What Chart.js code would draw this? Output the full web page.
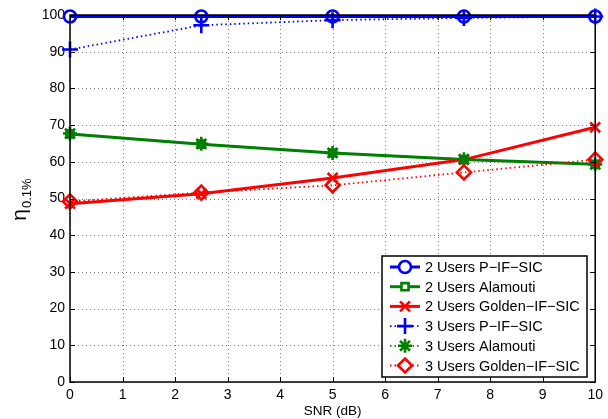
<!DOCTYPE html>
<html>
<head>
<meta charset="utf-8">
<script src="https://cdn.jsdelivr.net/npm/chart.js@4.4.1/dist/chart.umd.min.js"></script>
<style>
  html, body { margin: 0; padding: 0; background: #fff; }
  #wrap { width: 608px; height: 419px; }
</style>
</head>
<body>
<div id="wrap"><canvas id="c" width="608" height="419"></canvas></div>
<script>
// SNR points and eta values
const snr = [0, 2.5, 5, 7.5, 10];
const users2PIFSIC = [99.6, 99.6, 99.6, 99.6, 99.6];
const users2Alamouti = [67.6, 64.8, 62.4, 60.6, 59.3];
const users2Golden = [48.6, 51.3, 55.6, 60.6, 69.4];
const users3PIFSIC = [90.6, 97.2, 98.6, 99.2, 99.6];
const users3Alamouti = [67.7, 64.9, 62.4, 60.7, 59.3];
const users3Golden = [49.2, 51.6, 53.6, 57.1, 60.6];

const seriesNames = ['2 Users P\u2212IF\u2212SIC', '2 Users Alamouti', '2 Users Golden\u2212IF\u2212SIC',
                     '3 Users P\u2212IF\u2212SIC', '3 Users Alamouti', '3 Users Golden\u2212IF\u2212SIC'];
const xTicks = [0, 1, 2, 3, 4, 5, 6, 7, 8, 9, 10];
const yTicks = [0, 10, 20, 30, 40, 50, 60, 70, 80, 90, 100];

const FONT = '"Liberation Sans", Arial, Helvetica, sans-serif';

function pts(vals) {
  return snr.map((x, i) => ({ x: x, y: vals[i] }));
}

function ds(label, vals, color, style, radius, dotted) {
  return {
    label: label,
    data: pts(vals),
    borderColor: color,
    backgroundColor: 'rgba(0,0,0,0)',
    borderWidth: dotted ? 1.8 : 3,
    borderDash: dotted ? [1.5, 3] : [],
    pointStyle: style,
    pointRadius: radius,
    pointBorderWidth: 2.6,
    pointBorderColor: color,
    pointBackgroundColor: 'rgba(0,0,0,0)',
    pointHoverRadius: radius,
    tension: 0,
    clip: false
  };
}

const datasets = [
  ds(seriesNames[0], users2PIFSIC, '#0000ff', 'circle', 6, false),
  ds(seriesNames[1], users2Alamouti, '#008000', 'rect', 5, false),
  ds(seriesNames[2], users2Golden, '#ff0000', 'crossRot', 7, false),
  ds(seriesNames[3], users3PIFSIC, '#0000ff', 'cross', 8, true),
  ds(seriesNames[4], users3Alamouti, '#008000', 'star', 7, true),
  ds(seriesNames[5], users3Golden, '#ff0000', 'rectRot', 7, true)
];
// later series drawn on top, like matlab
datasets.forEach((d, i) => { d.order = datasets.length - 1 - i; });

// dotted grid like matlab
const gridPlugin = {
  id: 'dotGrid',
  beforeDatasetsDraw(chart) {
    const { ctx, chartArea: a, scales } = chart;
    ctx.save();
    ctx.strokeStyle = '#7a7a7a';
    ctx.lineWidth = 1;
    ctx.setLineDash([1, 3]);
    ctx.beginPath();
    xTicks.forEach(t => {
      const px = Math.round(scales.x.getPixelForValue(t)) + 0.5;
      ctx.moveTo(px, a.bottom); ctx.lineTo(px, a.top);
    });
    yTicks.forEach(v => {
      const py = Math.round(scales.y.getPixelForValue(v)) + 0.5;
      ctx.moveTo(a.left, py); ctx.lineTo(a.right, py);
    });
    ctx.stroke();
    ctx.restore();
  }
};

const framePlugin = {
  id: 'frame',
  afterDraw(chart) {
    const { ctx, chartArea: a, scales } = chart;
    ctx.save();
    // inward ticks
    ctx.strokeStyle = '#000';
    ctx.lineWidth = 1;
    ctx.beginPath();
    xTicks.forEach(t => {
      const px = Math.round(scales.x.getPixelForValue(t)) + 0.5;
      ctx.moveTo(px, a.bottom); ctx.lineTo(px, a.bottom - 5);
      ctx.moveTo(px, a.top); ctx.lineTo(px, a.top + 5);
    });
    yTicks.forEach(v => {
      const py = Math.round(scales.y.getPixelForValue(v)) + 0.5;
      ctx.moveTo(a.left, py); ctx.lineTo(a.left + 5, py);
      ctx.moveTo(a.right, py); ctx.lineTo(a.right - 5, py);
    });
    ctx.stroke();
    // box
    ctx.lineWidth = 1.5;
    ctx.strokeRect(a.left, a.top, a.right - a.left, a.bottom - a.top);

    // y axis label: eta with subscript
    ctx.translate(22, 200);
    ctx.rotate(-Math.PI / 2);
    ctx.fillStyle = '#000';
    ctx.textBaseline = 'alphabetic';
    ctx.font = '21px ' + FONT;
    const w1 = ctx.measureText('\u03b7').width;
    ctx.font = '13px ' + FONT;
    const w2 = ctx.measureText('0.1%').width;
    const start = -(w1 + w2) / 2;
    ctx.font = '21px ' + FONT;
    ctx.fillText('\u03b7', start, 4);
    ctx.font = '13px ' + FONT;
    ctx.fillText('0.1%', start + w1 + 1, 9);
    ctx.restore();

    // legend box
    const lx = 382, ly = 256, lw = 205, lh = 121;
    ctx.save();
    ctx.fillStyle = '#fff';
    ctx.fillRect(lx, ly, lw, lh);
    ctx.strokeStyle = '#000';
    ctx.lineWidth = 1.5;
    ctx.strokeRect(lx, ly, lw, lh);
    ctx.font = '14.5px ' + FONT;
    ctx.textBaseline = 'middle';
    chart.data.datasets.forEach((d, i) => {
      const y = ly + 11 + i * 19.7;
      ctx.strokeStyle = d.borderColor;
      ctx.lineWidth = d.borderWidth;
      ctx.setLineDash(d.borderDash);
      ctx.beginPath();
      ctx.moveTo(lx + 8, y);
      ctx.lineTo(lx + 38, y);
      ctx.stroke();
      ctx.setLineDash([]);
      ctx.fillStyle = '#fff';
      ctx.strokeStyle = d.borderColor;
      ctx.lineWidth = d.pointBorderWidth;
      Chart.helpers.drawPoint(ctx, {
        pointStyle: d.pointStyle,
        radius: d.pointRadius,
        borderWidth: d.pointBorderWidth,
        rotation: 0
      }, lx + 23, y);
      ctx.fillStyle = '#000';
      ctx.fillText(d.label, lx + 43, y + 1);
    });
    ctx.restore();
  }
};

new Chart(document.getElementById('c'), {
  type: 'line',
  data: { datasets: datasets },
  options: {
    responsive: false,
    animation: false,
    layout: { padding: { top: 15, right: 12, left: 0, bottom: 0 } },
    plugins: {
      legend: { display: false },
      tooltip: { enabled: false }
    },
    scales: {
      x: {
        type: 'linear',
        min: 0,
        max: 10,
        afterBuildTicks(scale) { scale.ticks = xTicks.map(v => ({ value: v })); },
        afterFit(scale) { scale.height = 37; },
        grid: { display: false, drawTicks: false },
        border: { display: false },
        ticks: {
          color: '#000',
          padding: 5,
          maxRotation: 0,
          autoSkip: false,
          font: { family: FONT, size: 14 }
        },
        title: {
          display: true,
          text: 'SNR (dB)',
          color: '#000',
          padding: { top: 0, bottom: 0 },
          font: { family: FONT, size: 13.5 }
        }
      },
      y: {
        min: 0,
        max: 100,
        afterBuildTicks(scale) { scale.ticks = yTicks.map(v => ({ value: v })); },
        ticks: {
          color: '#000',
          padding: 5,
          font: { family: FONT, size: 14 }
        },
        afterFit(scale) { scale.width = 70; },
        grid: { display: false, drawTicks: false },
        border: { display: false }
      }
    }
  },
  plugins: [gridPlugin, framePlugin]
});
</script>
</body>
</html>
